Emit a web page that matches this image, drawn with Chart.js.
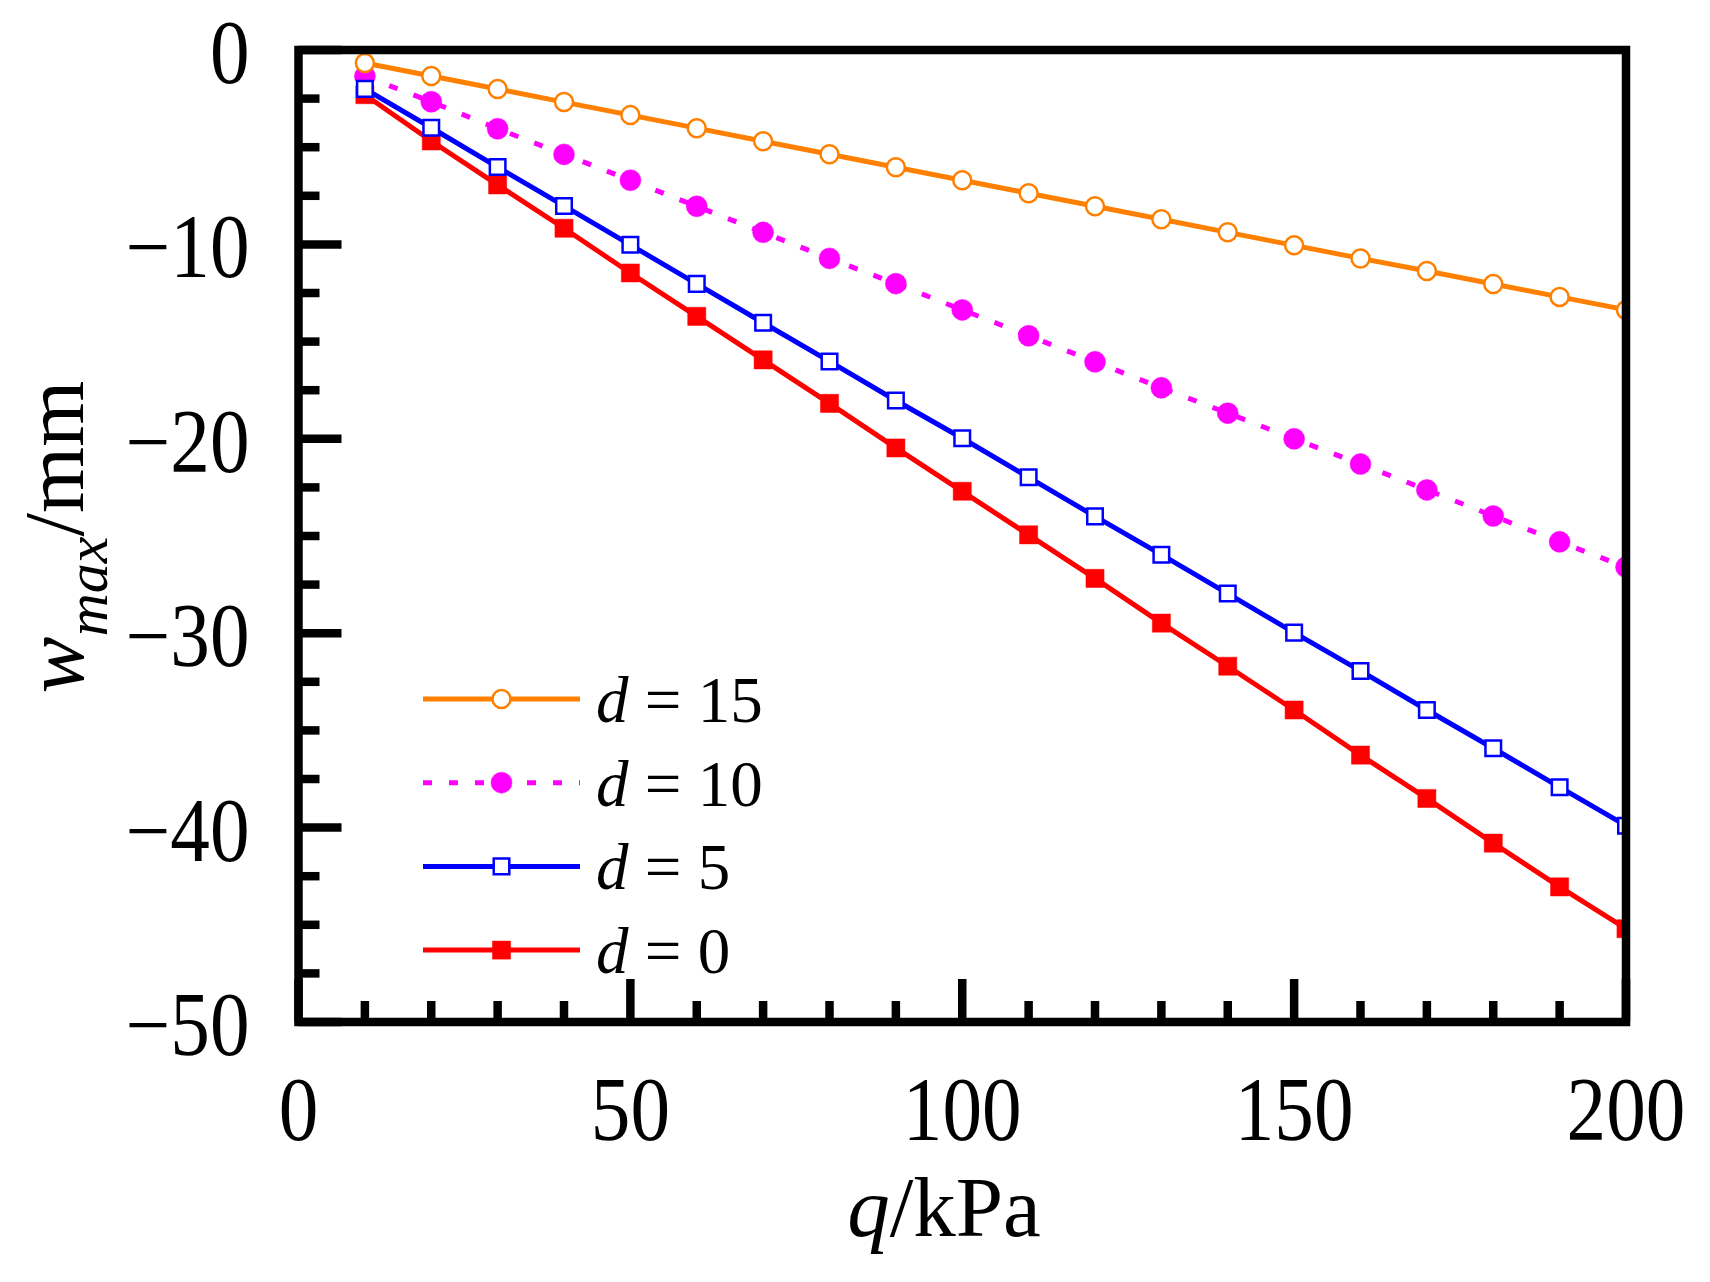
<!DOCTYPE html>
<html>
<head>
<meta charset="UTF-8">
<title>w_max vs q</title>
<script src="https://cdn.jsdelivr.net/npm/chart.js@4.4.1/dist/chart.umd.min.js"></script>
<style>
  html, body { margin: 0; padding: 0; background: #fff; }
  canvas { display: block; }
</style>
</head>
<body>
<canvas id="myChart" width="1710" height="1282"></canvas>
<script>
// load q (kPa) and max deflection w_max (mm) for each d
var q = [10, 20, 30, 40, 50, 60, 70, 80, 90, 100, 110, 120, 130, 140, 150, 160, 170, 180, 190, 200];
var wD15 = [-0.67, -1.34, -2.01, -2.68, -3.35, -4.02, -4.69, -5.36, -6.03, -6.70, -7.37, -8.04, -8.71, -9.38, -10.05, -10.72, -11.37, -12.04, -12.70, -13.37];
var wD10 = [-1.35, -2.66, -4.05, -5.37, -6.70, -8.04, -9.38, -10.72, -12.02, -13.37, -14.70, -16.04, -17.38, -18.68, -20.00, -21.30, -22.63, -23.97, -25.30, -26.60];
var wD5 = [-2.00, -4.00, -6.02, -8.02, -10.02, -12.03, -14.03, -16.02, -18.03, -19.97, -21.98, -23.99, -25.96, -27.96, -29.97, -31.94, -33.95, -35.92, -37.92, -39.90];
var wD0 = [-2.30, -4.68, -6.94, -9.17, -11.47, -13.70, -15.94, -18.18, -20.47, -22.70, -24.94, -27.18, -29.48, -31.70, -33.95, -36.27, -38.50, -40.80, -43.05, -45.20];
var dLabels = ['15', '10', '5', '0'];

var xTicks = [0, 50, 100, 150, 200];
var xTickLabels = ['0', '50', '100', '150', '200'];
var xMinorTicks = [10, 20, 30, 40, 60, 70, 80, 90, 110, 120, 130, 140, 160, 170, 180, 190];
var yTicks = [0, -10, -20, -30, -40, -50];
var yTickLabels = ['0', '\u221210', '\u221220', '\u221230', '\u221240', '\u221250'];
var yMinorTicks = [-2.5, -5, -7.5, -12.5, -15, -17.5, -22.5, -25, -27.5, -32.5, -35, -37.5, -42.5, -45, -47.5];

var FONT = '"Liberation Serif", "Times New Roman", serif';

function pts(ys) {
    return q.map(function (x, i) { return { x: x, y: ys[i] }; });
}

// frame + inward ticks + tick labels, drawn over the lines
var framePlugin = {
    id: 'frame',
    afterDatasetsDraw: function (chart) {
        var ctx = chart.ctx, a = chart.chartArea;
        var xs = chart.scales.x, ys = chart.scales.y;
        ctx.save();
        ctx.strokeStyle = '#000';
        ctx.lineWidth = 8.5;
        ctx.lineCap = 'butt';
        function tickX(v, len) {
            var px = xs.getPixelForValue(v);
            ctx.beginPath(); ctx.moveTo(px, a.bottom); ctx.lineTo(px, a.bottom - len); ctx.stroke();
        }
        function tickY(v, len) {
            var py = ys.getPixelForValue(v);
            ctx.beginPath(); ctx.moveTo(a.left, py); ctx.lineTo(a.left + len, py); ctx.stroke();
        }
        xTicks.forEach(function (v) { tickX(v, 43); });
        xMinorTicks.forEach(function (v) { tickX(v, 21); });
        yTicks.forEach(function (v) { tickY(v, 43); });
        yMinorTicks.forEach(function (v) { tickY(v, 21); });
        ctx.lineJoin = 'miter';
        ctx.strokeRect(a.left, a.top, a.right - a.left, a.bottom - a.top);

        // tick labels (slightly condensed serif digits)
        ctx.fillStyle = '#000';
        ctx.font = '90px ' + FONT;
        ctx.textBaseline = 'alphabetic';
        xTicks.forEach(function (v, i) {
            ctx.save();
            ctx.translate(xs.getPixelForValue(v), a.bottom + 118);
            ctx.scale(0.88, 1);
            ctx.textAlign = 'center';
            ctx.fillText(xTickLabels[i], 0, 0);
            ctx.restore();
        });
        yTicks.forEach(function (v, i) {
            ctx.save();
            ctx.translate(a.left - 49, ys.getPixelForValue(v) + 33);
            ctx.scale(0.88, 1);
            ctx.textAlign = 'right';
            ctx.fillText(yTickLabels[i], 0, 0);
            ctx.restore();
        });
        ctx.restore();
    }
};

// axis titles and legend with italic symbols
var textPlugin = {
    id: 'texts',
    afterDraw: function (chart) {
        var ctx = chart.ctx, a = chart.chartArea;
        ctx.save();
        ctx.fillStyle = '#000';
        ctx.textBaseline = 'alphabetic';
        ctx.textAlign = 'left';

        // y title: w_max/mm
        var parts = [
            { t: 'w', f: 'italic 85px ' + FONT, dy: 0 },
            { t: 'max', f: 'italic 60px ' + FONT, dy: 24 },
            { t: '/mm', f: '85px ' + FONT, dy: 0 }
        ];
        var total = 0;
        parts.forEach(function (p) { ctx.font = p.f; p.w = ctx.measureText(p.t).width; total += p.w; });
        ctx.save();
        ctx.translate(83, (a.top + a.bottom) / 2 + 1);
        ctx.rotate(-Math.PI / 2);
        var cx = -total / 2;
        parts.forEach(function (p) { ctx.font = p.f; ctx.fillText(p.t, cx, p.dy); cx += p.w; });
        ctx.restore();

        // x title: q/kPa
        var xp = [
            { t: 'q', f: 'italic 85px ' + FONT },
            { t: '/kPa', f: '85px ' + FONT }
        ];
        total = 0;
        xp.forEach(function (p) { ctx.font = p.f; p.w = ctx.measureText(p.t).width; total += p.w; });
        cx = 944 - total / 2;
        xp.forEach(function (p) { ctx.font = p.f; ctx.fillText(p.t, cx, 1236); cx += p.w; });

        // legend
        var x0 = a.left + 124.5, len = 157, y0 = a.top + 649, step = 83.7;
        chart.data.datasets.forEach(function (ds, i) {
            var y = y0 + i * step;
            ctx.save();
            ctx.strokeStyle = ds.borderColor;
            ctx.lineWidth = ds.borderWidth;
            ctx.setLineDash(ds.borderDash || []);
            ctx.beginPath(); ctx.moveTo(x0, y); ctx.lineTo(x0 + len, y); ctx.stroke();
            ctx.setLineDash([]);
            var mx = x0 + len / 2, r = ds.pointRadius;
            ctx.fillStyle = ds.pointBackgroundColor;
            ctx.strokeStyle = ds.pointBorderColor;
            ctx.lineWidth = ds.pointBorderWidth;
            ctx.beginPath();
            if (ds.pointStyle === 'rect') {
                var s = Math.SQRT1_2 * r;
                ctx.rect(mx - s, y - s, 2 * s, 2 * s);
            } else {
                ctx.arc(mx, y, r, 0, Math.PI * 2);
            }
            ctx.fill(); ctx.stroke();
            ctx.restore();

            var tx = x0 + len + 16;
            ctx.font = 'italic 65px ' + FONT;
            ctx.fillText('d', tx, y + 23);
            tx += ctx.measureText('d').width;
            ctx.font = '65px ' + FONT;
            ctx.fillText(' = ' + dLabels[i], tx, y + 23);
        });
        ctx.restore();
    }
};

var config = {
    type: 'line',
    data: {
        datasets: [{
            label: 'd = ' + dLabels[0],
            data: pts(wD15),
            borderColor: '#FF8000',
            borderWidth: 5,
            pointStyle: 'circle',
            pointRadius: 9,
            pointBorderWidth: 2.5,
            pointBorderColor: '#FF8000',
            pointBackgroundColor: '#FFFFFF',
            order: 1
        }, {
            label: 'd = ' + dLabels[1],
            data: pts(wD10),
            borderColor: '#FF00FF',
            borderWidth: 5,
            borderDash: [9, 17],
            pointStyle: 'circle',
            pointRadius: 10.5,
            pointBorderWidth: 0.5,
            pointBorderColor: '#FF00FF',
            pointBackgroundColor: '#FF00FF',
            order: 3
        }, {
            label: 'd = ' + dLabels[2],
            data: pts(wD5),
            borderColor: '#0000FF',
            borderWidth: 5,
            pointStyle: 'rect',
            pointRadius: 11,
            pointBorderWidth: 2.5,
            pointBorderColor: '#0000FF',
            pointBackgroundColor: '#FFFFFF',
            order: 2
        }, {
            label: 'd = ' + dLabels[3],
            data: pts(wD0),
            borderColor: '#FF0000',
            borderWidth: 5,
            pointStyle: 'rect',
            pointRadius: 12.8,
            pointBorderWidth: 0.5,
            pointBorderColor: '#FF0000',
            pointBackgroundColor: '#FF0000',
            order: 4
        }]
    },
    options: {
        responsive: false,
        devicePixelRatio: 1,
        animation: false,
        events: [],
        clip: 0,
        layout: { padding: { top: 50, right: 84, left: 298.5, bottom: 260 } },
        elements: { line: { tension: 0 } },
        plugins: { legend: { display: false }, tooltip: { enabled: false } },
        scales: {
            x: { type: 'linear', display: false, min: 0, max: 200 },
            y: { type: 'linear', display: false, min: -50, max: 0 }
        }
    },
    plugins: [framePlugin, textPlugin]
};

var myChart = new Chart(document.getElementById('myChart'), config);
</script>
</body>
</html>
